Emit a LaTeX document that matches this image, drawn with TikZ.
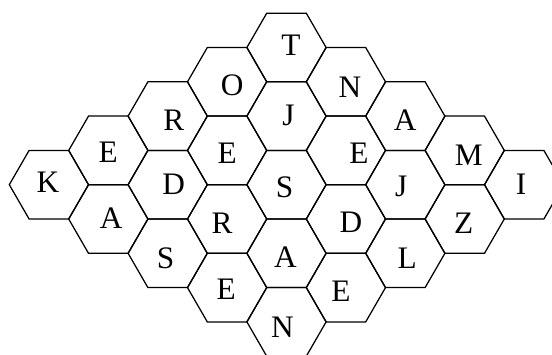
\documentclass[tikz,border=0pt]{standalone}
\usepackage{fontspec}
\setmainfont{Liberation Serif}
\usetikzlibrary{shapes.geometric}
\tikzset{
  hex cell/.style={
    draw=black,
    shape=regular polygon,
    regular polygon sides=6,
    minimum size=20mm,
    inner sep=0pt,
    outer sep=0pt,
    line width=0.9pt,
  },
  hex letter/.style={
    font=\fontsize{22.5}{22.5}\selectfont,
    inner sep=0pt,
  },
}

\begin{document}
\begin{tikzpicture}[x=0.25253mm,y=-0.25253mm]
  \useasboundingbox (0,0) rectangle (552,354);
  \clip (0,0) rectangle (552,354);

  % rhombus of 5x5 cells, row i runs down-left, column j down-right
  \foreach \i/\j/\lab/\dx/\dy in {
    0/0/T/4.5/-2.5, 0/1/N/4/5, 0/2/A/0/4, 0/3/M/4/5, 0/4/I/-3/0,
    1/0/O/5/3, 1/1/J/2/-1, 1/2/E/13/3, 1/3/J/-4/2, 1/4/Z/-1/4,
    2/0/R/6/4, 2/1/E/0/3, 2/2/S/-2/3, 2/3/D/5/3, 2/4/L/2/5,
    3/0/E/0/2, 3/1/D/6/0, 3/2/R/-5/4, 3/3/A/-1/4, 3/4/E/-5/4,
    4/0/K/-1/-2, 4/1/A/3/-1, 4/2/S/-2/5, 4/3/E/-1/2, 4/4/N/-4/5
  }{
    \node[hex cell] (h\i\j) at ({286.5+59.4*(\j-\i)},{47.5+34.3*(\i+\j)}) {};
    \node[hex letter] (l\i\j) at ([shift={(\dx,\dy)}]h\i\j.center) {\lab};
  }
\end{tikzpicture}
\end{document}
